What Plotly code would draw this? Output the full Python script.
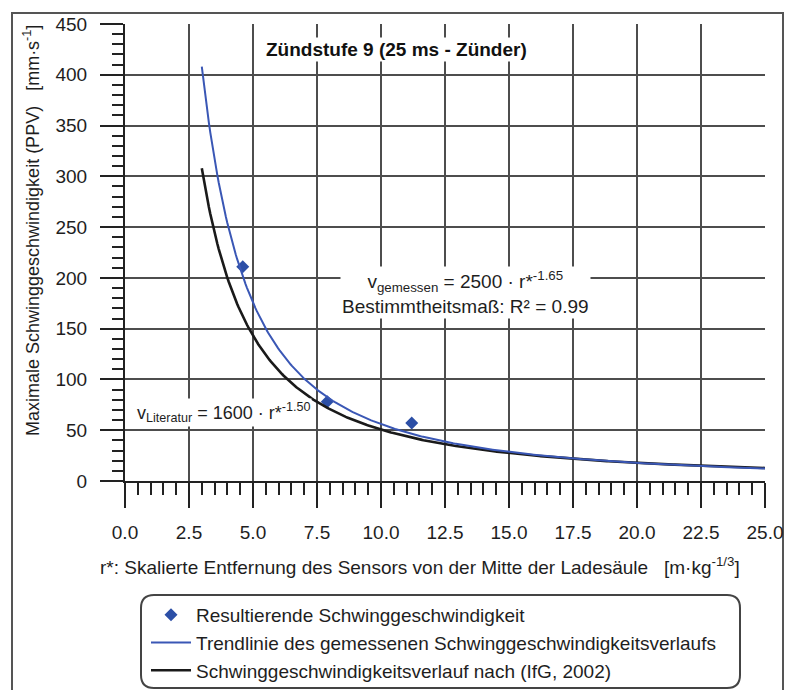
import numpy as np
import plotly.graph_objects as go

# Measured peak particle velocities
r_measured = [4.6, 7.9, 11.2]
ppv_measured = [211, 78, 57]

# Power-law curves v = a * r^b
trend_a, trend_b = 2500, -1.65      # fitted trend line
lit_a, lit_b = 1600, -1.50          # literature curve (IfG, 2002)
r_start, r_end = 3.0, 25.0

x_ticks = [0, 2.5, 5, 7.5, 10, 12.5, 15, 17.5, 20, 22.5, 25]
y_ticks = [0, 50, 100, 150, 200, 250, 300, 350, 400, 450]

W, H = 787, 690
ML, MR, MT, MB = 125, 22, 24, 209
PW, PH = W - ML - MR, H - MT - MB

FONT = "Liberation Sans, Arial, sans-serif"
TXT = "#1e1e1e"


def px(x):
    return (x - ML) / PW


def py(y):
    return (H - MB - y) / PH


r = np.linspace(r_start, r_end, 400)
v_trend = trend_a * r ** trend_b
v_lit = lit_a * r ** lit_b

fig = go.Figure()
fig.add_trace(go.Scatter(
    x=r_measured, y=ppv_measured, mode="markers",
    marker=dict(symbol="diamond", size=10, color="#2c4fa6"),
    name="Resultierende Schwinggeschwindigkeit", legendgroup="a",
    legendrank=1))
fig.add_trace(go.Scatter(
    x=r, y=v_lit, mode="lines", line=dict(color="#1a1a1a", width=2.6),
    name="Schwinggeschwindigkeitsverlauf nach (IfG, 2002)", legendgroup="c",
    legendrank=3))
fig.add_trace(go.Scatter(
    x=r, y=v_trend, mode="lines", line=dict(color="#3a57b5", width=2),
    name="Trendlinie des gemessenen Schwinggeschwindigkeitsverlaufs",
    legendgroup="b", legendrank=2))

axis_common = dict(
    showline=True, linecolor="#222", linewidth=2, mirror=False,
    showgrid=True, gridcolor="#4d4d4d", gridwidth=1.6,
    ticks="outside", tickcolor="#222", tickwidth=2,
    tickfont=dict(family=FONT, size=19, color=TXT),
    zeroline=False,
)

fig.update_xaxes(
    range=[0, 25], tickvals=x_ticks, tickformat=".1f", ticklen=25,
    ticklabelstandoff=8,
    minor=dict(dtick=0.5, ticklen=12, ticks="outside", tickcolor="#222",
               tickwidth=2, showgrid=False),
    **axis_common)
fig.update_yaxes(
    range=[0, 450], tickvals=y_ticks, ticklen=23, ticklabelstandoff=9,
    minor=dict(dtick=10, ticklen=11, ticks="outside", tickcolor="#222",
               tickwidth=2, showgrid=False),
    **axis_common)

annots = [
    dict(x=10.6, y=425, xref="x", yref="y", xanchor="center",
         yanchor="middle",
         text="<b>Zündstufe 9 (25 ms - Zünder)</b>",
         font=dict(family=FONT, size=19, color="#111"),
         bgcolor="white", showarrow=False),
    dict(x=13.3, y=186, xref="x", yref="y", xanchor="center",
         yanchor="middle",
         text="v<sub>gemessen</sub> = 2500 · r*<sup>-1.65</sup><br>"
              "Bestimmtheitsmaß: R² = 0.99",
         font=dict(family=FONT, size=19, color=TXT),
         bgcolor="white", showarrow=False, align="center"),
    dict(x=3.85, y=67, xref="x", yref="y", xanchor="center",
         yanchor="middle",
         text="v<sub>Literatur</sub> = 1600 · r*<sup>-1.50</sup>",
         font=dict(family=FONT, size=18, color=TXT),
         bgcolor="white", showarrow=False),
    dict(x=px(420), y=py(566), xref="paper", yref="paper",
         xanchor="center", yanchor="middle",
         text="r*: Skalierte Entfernung des Sensors von der Mitte der "
              "Ladesäule   [m·kg<sup>-1/3</sup>]",
         font=dict(family=FONT, size=19, color=TXT),
         showarrow=False),
    dict(x=px(31), y=py(231), xref="paper", yref="paper",
         xanchor="center", yanchor="middle",
         text="Maximale Schwinggeschwindigkeit (PPV)   [mm·s<sup>-1</sup>]",
         textangle=-90,
         font=dict(family=FONT, size=18, color=TXT),
         showarrow=False),
]

# Rounded legend frame
x0, x1, y0, y1 = 141, 740, 595, 688
rad = 13
rx, ry = rad / PW, rad / PH
X0, X1, Y0, Y1 = px(x0), px(x1), py(y1), py(y0)
legend_path = (
    f"M {X0 + rx} {Y1} L {X1 - rx} {Y1} Q {X1} {Y1} {X1} {Y1 - ry} "
    f"L {X1} {Y0 + ry} Q {X1} {Y0} {X1 - rx} {Y0} "
    f"L {X0 + rx} {Y0} Q {X0} {Y0} {X0} {Y0 + ry} "
    f"L {X0} {Y1 - ry} Q {X0} {Y1} {X0 + rx} {Y1} Z"
)

shapes = [
    dict(type="rect", xref="paper", yref="paper",
         x0=px(12), x1=px(783), y0=py(720), y1=py(13),
         line=dict(color="#555", width=2), fillcolor="rgba(0,0,0,0)",
         layer="below"),
    dict(type="path", xref="paper", yref="paper", path=legend_path,
         line=dict(color="#444", width=2), fillcolor="rgba(0,0,0,0)"),
]

fig.update_layout(
    width=W, height=H,
    margin=dict(l=ML, r=MR, t=MT, b=MB, autoexpand=False),
    paper_bgcolor="white", plot_bgcolor="white",
    showlegend=True,
    legend=dict(x=px(146), y=py(596), xanchor="left", yanchor="top",
                font=dict(family=FONT, size=19, color=TXT),
                bgcolor="rgba(0,0,0,0)", borderwidth=0,
                traceorder="normal", tracegroupgap=0, itemwidth=40),
    annotations=annots,
    shapes=shapes,
)

fig.write_html("out.html")
